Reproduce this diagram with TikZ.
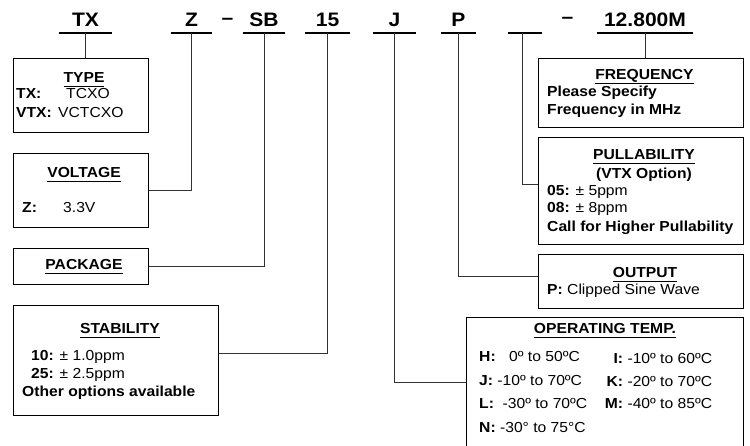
\documentclass[tikz,border=0pt]{standalone}
\usepackage{fontspec}
\setmainfont{Liberation Sans}[FakeStretch=1.08]
\usetikzlibrary{positioning}

\newcommand{\bodyfont}{\fontsize{14.5}{17}\selectfont}
\newcommand{\codefont}{\fontsize{19.5}{21}\selectfont\bfseries}
\newcommand{\hdul}[1]{\setbox0=\hbox{#1}\rlap{\rule[-4.5pt]{\wd0}{1.3pt}}\box0}

\begin{document}
\begin{tikzpicture}[
    x=1pt, y=-1pt,
    code/.style={anchor=south, inner xsep=0, inner ysep=6, text depth=0, font=\codefont},
    codeline/.style={line width=2.5pt},
    panel/.style={draw, line width=1.2pt, anchor=north west, inner sep=0},
    head/.style={anchor=base, inner sep=0, font=\bodyfont\bfseries},
    txt/.style={anchor=base west, inner sep=0, font=\bodyfont},
    conn/.style={line width=0.9pt, draw=black!80}
]
\useasboundingbox (0,0) rectangle (750,446);
\clip (0,0) rectangle (750,446);

% part number
\node[code, minimum width=53] (cTX) at (85.5,33) {TX};
\node[code, minimum width=41] (cZ) at (191.5,33) {Z};
\node[code, anchor=base] (dash1) at (227.5,24.5) {–};
\node[code, minimum width=42] (cSB) at (264,33) {SB};
\node[code, minimum width=45] (c15) at (327.5,33) {15};
\node[code, minimum width=43] (cJ) at (394.5,33) {J};
\node[code, minimum width=35] (cP) at (458.5,33) {P};
\node[code, minimum width=34] (cV) at (525,33) {};
\node[code, anchor=base] (dash2) at (567.5,23.5) {–};
\node[code, minimum width=96] (cM) at (645,33) {12.800M};
\foreach \c in {cTX,cZ,cSB,c15,cJ,cP,cV,cM}
    \draw[codeline] (\c.south west) -- (\c.south east);

% option boxes
\node[panel, minimum width=135, minimum height=74] (typeBox) at (13,58) {};
\node[panel, minimum width=135, minimum height=74] (voltBox) at (13,153) {};
\node[panel, minimum width=135, minimum height=36] (pkgBox) at (13,248) {};
\node[panel, minimum width=205, minimum height=110] (stabBox) at (13,305) {};
\node[panel, minimum width=205, minimum height=69] (freqBox) at (538,58) {};
\node[panel, minimum width=205, minimum height=107] (pullBox) at (538,137) {};
\node[panel, minimum width=205, minimum height=54] (outBox) at (538,254) {};
\node[panel, minimum width=277, minimum height=130] (tempBox) at (466,317) {};

% type
\node[head] (hType) at (84,83) {\hdul{TYPE}};
\node[txt] (tTX) at (16,99) {\makebox[50pt][l]{\textbf{TX:}}TCXO};
\node[txt] (tVTX) at (16,118) {\makebox[42pt][l]{\textbf{VTX:}}VCTCXO};

% voltage
\node[head] (hVolt) at (84,178) {\hdul{VOLTAGE}};
\node[txt] (tZ) at (22,213) {\makebox[41pt][l]{\textbf{Z:}}3.3V};

% package
\node[head] (hPkg) at (84,270) {\hdul{PACKAGE}};

% stability
\node[head] (hStab) at (120,334) {\hdul{STABILITY}};
\node[txt] (t10) at (31,361) {\textbf{10:} ± 1.0ppm};
\node[txt] (t25) at (31,378) {\textbf{25:} ± 2.5ppm};
\node[txt] (tOther) at (22,396) {\textbf{Other options available}};

% frequency
\node[head] (hFreq) at (644.5,80) {\hdul{FREQUENCY}};
\node[txt] (tPlease) at (547,97) {\textbf{Please Specify}};
\node[txt] (tMHz) at (547,115) {\textbf{Frequency in MHz}};

% pullability
\node[head] (hPull) at (644,160) {\hdul{PULLABILITY}};
\node[head] (hVTX) at (644,179) {(VTX Option)};
\node[txt] (t05) at (547,196) {\textbf{05:} ± 5ppm};
\node[txt] (t08) at (547,213) {\textbf{08:} ± 8ppm};
\node[txt] (tCall) at (547,232) {\textbf{Call for Higher Pullability}};

% output
\node[head] (hOut) at (645,278) {\hdul{OUTPUT}};
\node[txt] (tClip) at (547,295) {\textbf{P:} Clipped Sine Wave};

% operating temp
\node[head] (hTemp) at (605,334) {\hdul{OPERATING TEMP.}};
\node[txt] (tH) at (479,362) {\makebox[30pt][l]{\textbf{H:}}0º to 50ºC};
\node[txt] (tJ) at (479,385) {\textbf{J:} -10º to 70ºC};
\node[txt] (tL) at (479,408) {\textbf{L:}\ \ -30º to 70ºC};
\node[txt] (tN) at (479,432) {\textbf{N:} -30° to 75°C};
\node[txt] (tI) at (605,363) {\makebox[18pt][r]{\textbf{I:}} -10º to 60ºC};
\node[txt] (tK) at (605,386) {\makebox[18pt][r]{\textbf{K:}} -20º to 70ºC};
\node[txt] (tM) at (605,408) {\makebox[18pt][r]{\textbf{M:}} -40º to 85ºC};

% connectors
\draw[conn] (cTX.south) -- (cTX.south |- typeBox.north);
\draw[conn] (cZ.south) |- (voltBox.east);
\draw[conn] (cSB.south) |- (pkgBox.east);
\draw[conn] (c15.south) |- ([yshift=7pt]stabBox.east);
\draw[conn] (cJ.south) |- (tempBox.west);
\draw[conn] (cP.south) |- ([yshift=5pt]outBox.west);
\draw[conn] ([xshift=-3pt]cV.south) |- ([yshift=6.5pt]pullBox.west);
\draw[conn] (cM.south) -- (cM.south |- freqBox.north);
\end{tikzpicture}
\end{document}
